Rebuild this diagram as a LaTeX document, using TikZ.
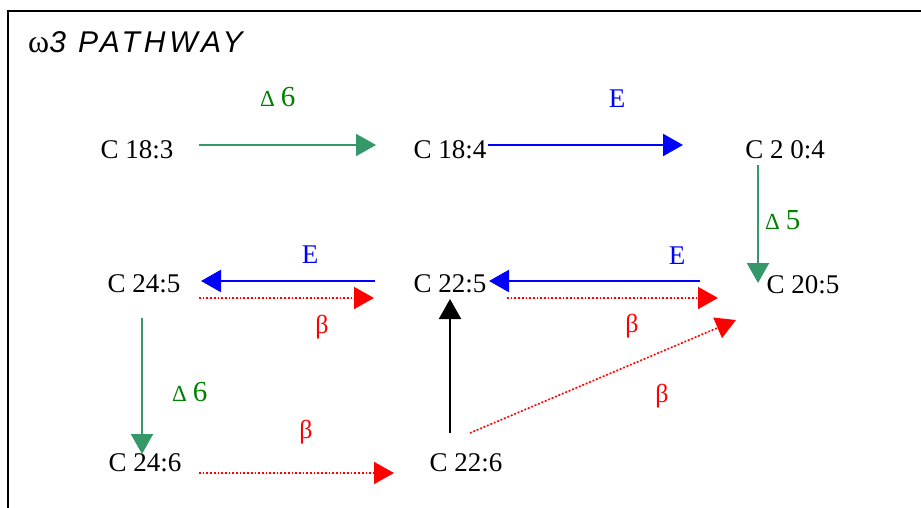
\documentclass[tikz,border=0pt]{standalone}
\usepackage{fontspec}
\setmainfont{Liberation Serif}
\newfontfamily\titlefont[LetterSpace=13]{Liberation Sans}
\usetikzlibrary{arrows.meta}
\definecolor{arrgreen}{RGB}{52,152,104}
\definecolor{txtgreen}{RGB}{0,128,0}
\definecolor{myblue}{RGB}{0,0,255}
\definecolor{myred}{RGB}{255,0,0}
\newcommand{\dlabel}[1]{\fontsize{23}{26}\selectfont Δ\hspace{6pt}\fontsize{29}{32}\selectfont #1}
\begin{document}
\begin{tikzpicture}[x=1pt,y=-1pt,
  lbl/.style={inner sep=0pt,font=\fontsize{27}{31}\selectfont},
  tip/.style={-{Triangle[length=20pt,width=22pt]}},
  garr/.style={tip,draw=arrgreen,fill=arrgreen,line width=2.2pt},
  barr/.style={tip,draw=myblue,fill=myblue,line width=2.4pt},
  karr/.style={tip,draw=black,fill=black,line width=2.2pt},
  rarr/.style={tip,draw=myred,fill=myred,line width=1.7pt,dotted},
  glbl/.style={inner sep=0pt,text=txtgreen},
  blbl/.style={inner sep=0pt,text=myblue,font=\fontsize{27}{31}\selectfont},
  rlbl/.style={inner sep=0pt,text=myred,font=\fontsize{26}{30}\selectfont}]
\useasboundingbox (0,0) rectangle (921,508);
\draw[line width=2pt] (8,508) -- (8,11) -- (921,11);
\node[anchor=base west,inner sep=0pt] (title) at (28,53)
  {\fontsize{32}{34}\selectfont ω\fontsize{30}{32}\selectfont\titlefont\itshape 3 PATHWAY};
% metabolites
\node[lbl] (n183) at (137,150) {C 18:3};
\node[lbl] (n184) at (450,150) {C 18:4};
\node[lbl] (n204) at (785,150) {C 2 0:4};
\node[lbl] (n245) at (144,284) {C 24:5};
\node[lbl] (n225) at (450,284) {C 22:5};
\node[lbl] (n205) at (803,285) {C 20:5};
\node[lbl] (n246) at (145,463) {C 24:6};
\node[lbl] (n226) at (466,463) {C 22:6};
% arrow end points
\coordinate (a1s) at (199,145); \coordinate (a1e) at (376,145);
\coordinate (a2s) at (488,145); \coordinate (a2e) at (683,145);
\coordinate (a3s) at (758,165); \coordinate (a3e) at (758,283);
\coordinate (a4s) at (700,281); \coordinate (a4e) at (489,281);
\coordinate (a5s) at (375,281); \coordinate (a5e) at (201,281);
\coordinate (a6s) at (199,298); \coordinate (a6e) at (374,298);
\coordinate (a7s) at (507,298); \coordinate (a7e) at (718,298);
\coordinate (a8s) at (470,433); \coordinate (a8e) at (736,320);
\coordinate (a9s) at (450,433); \coordinate (a9e) at (450,299);
\coordinate (a10s) at (142,318); \coordinate (a10e) at (142,454);
\coordinate (a11s) at (199,473); \coordinate (a11e) at (394,473);
\draw[garr] (a1s) -- (a1e);
\draw[barr] (a2s) -- (a2e);
\draw[garr] (a3s) -- (a3e);
\draw[barr] (a4s) -- (a4e);
\draw[barr] (a5s) -- (a5e);
\draw[rarr] (a6s) -- (a6e);
\draw[rarr] (a7s) -- (a7e);
\draw[rarr] (a8s) -- (a8e);
\draw[karr] (a9s) -- (a9e);
\draw[garr] (a10s) -- (a10e);
\draw[rarr] (a11s) -- (a11e);
% enzyme labels
\node[glbl,anchor=base west] (d1) at (260,107) {\dlabel{6}};
\node[blbl] (e1) at (617,99) {E};
\node[glbl,anchor=base west] (d2) at (765,229) {\dlabel{5}};
\node[blbl] (e2) at (310,255) {E};
\node[blbl] (e3) at (677,256) {E};
\node[rlbl] (b1) at (322,327) {β};
\node[rlbl] (b2) at (632,326) {β};
\node[rlbl] (b3) at (662,396) {β};
\node[glbl,anchor=base west] (d3) at (172,401) {\dlabel{6}};
\node[rlbl] (b4) at (306,432) {β};
\end{tikzpicture}
\end{document}
